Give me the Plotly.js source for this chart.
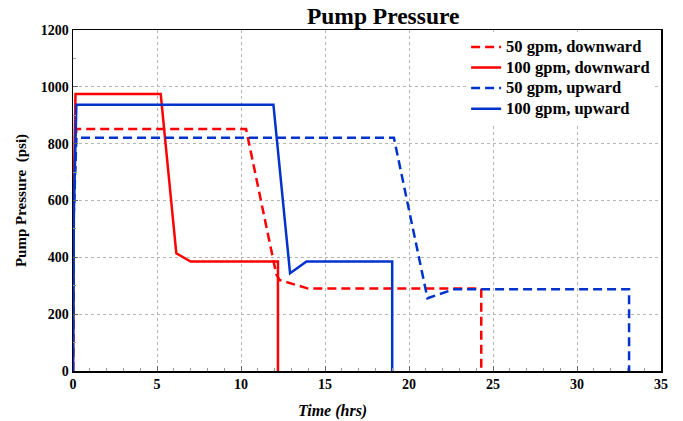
<!DOCTYPE html>
<html><head><meta charset="utf-8">
<script src="https://cdn.plot.ly/plotly-3.0.1.min.js"></script>
<style>html,body{margin:0;padding:0;background:#fff}#chart{width:683px;height:421px}</style>
</head><body><div id="chart"></div>
<script>
const seriesNames = ["50 gpm, downward", "100 gpm, downward", "50 gpm, upward", "100 gpm, upward"];
const down50_t = [0, 0.05, 0.2, 10.3, 12.1, 12.3, 14.0, 24.3, 24.3];
const down50_p = [0, 600, 852, 852, 340, 320, 290, 290, 0];
const down100_t = [0, 0.05, 0.15, 5.22, 6.15, 7.0, 12.2, 12.2];
const down100_p = [0, 650, 975, 975, 414, 385, 385, 0];
const up50_t = [0, 0.05, 0.2, 19.1, 21.1, 22.7, 33.1, 33.1];
const up50_p = [0, 560, 821, 821, 256, 288, 288, 0];
const up100_t = [0, 0.05, 0.2, 11.93, 12.92, 13.6, 13.9, 19.0, 19.0];
const up100_p = [0, 550, 937, 937, 344, 372, 385, 385, 0];
const xTicks = [0, 5, 10, 15, 20, 25, 30, 35];
const yTicks = [0, 200, 400, 600, 800, 1000, 1200];

const mk = (t, p, name, color, dash) => ({
  x: t, y: p, name: '<span style="font-size:16.5px"><b>' + name + '</b></span>', type: 'scatter', mode: 'lines',
  line: {color: color, width: 2.5, dash: dash}
});
const data = [
  mk(down50_t, down50_p, seriesNames[0], '#ff0000', '9px,5px'),
  mk(down100_t, down100_p, seriesNames[1], '#ff0000', 'solid'),
  mk(up50_t, up50_p, seriesNames[2], '#0033cc', '9px,5px'),
  mk(up100_t, up100_p, seriesNames[3], '#0033cc', 'solid')
];
const ff = '"Liberation Serif", "Times New Roman", serif';
const layout = {
  width: 683, height: 421,
  margin: {l: 73, r: 22, t: 30, b: 50},
  paper_bgcolor: '#fff', plot_bgcolor: '#fff',
  font: {family: ff, color: '#000'},
  title: {text: '<b>Pump Pressure</b>', font: {family: ff, size: 23.5, color: '#000'}, x: 0.561, xref: 'container', xanchor: 'center', y: 0.982, yref: 'container', yanchor: 'top'},
  xaxis: {
    range: [0, 35], tickvals: xTicks, ticktext: xTicks.map(v => '<b>' + v + '</b>'),
    showgrid: true, gridcolor: '#b5b5b5', griddash: '3px,3px', gridwidth: 1,
    showline: true, linecolor: '#000', linewidth: 1.5, mirror: true,
    ticks: 'inside', ticklen: 5, tickcolor: '#666',
    minor: {dtick: 1, ticks: 'inside', ticklen: 3, tickcolor: '#999', showgrid: false},
    zeroline: false, tickfont: {family: ff, size: 14, color: '#000'}
  },
  yaxis: {
    range: [0, 1200], tickvals: yTicks, ticktext: yTicks.map(v => '<b>' + v + '</b>'),
    showgrid: true, gridcolor: '#b5b5b5', griddash: '3px,3px', gridwidth: 1,
    showline: true, linecolor: '#000', linewidth: 1.5, mirror: true,
    ticks: 'inside', ticklen: 5, tickcolor: '#666',
    minor: {dtick: 100, ticks: 'inside', ticklen: 3, tickcolor: '#999', showgrid: false},
    zeroline: false, tickfont: {family: ff, size: 14, color: '#000'},
    title: {text: '<b>Pump Pressure  (psi)</b>', font: {family: ff, size: 15, color: '#000'}, standoff: 10}
  },
  annotations: [{
    text: '<b><i>Time (hrs)</i></b>', xref: 'paper', yref: 'paper', x: 0.442, y: -0.085,
    xanchor: 'center', yanchor: 'top', showarrow: false, font: {family: ff, size: 16, color: '#000'}
  }],
  legend: {
    x: 0.99, y: 0.995, xanchor: 'right', yanchor: 'top',
    bgcolor: '#fff', borderwidth: 0,
    font: {family: ff, size: 13.5, color: '#000'},
    tracegroupgap: 0, itemwidth: 30
  },
  showlegend: true
};
Plotly.newPlot('chart', data, layout, {displayModeBar: false, staticPlot: true});
</script></body></html>
